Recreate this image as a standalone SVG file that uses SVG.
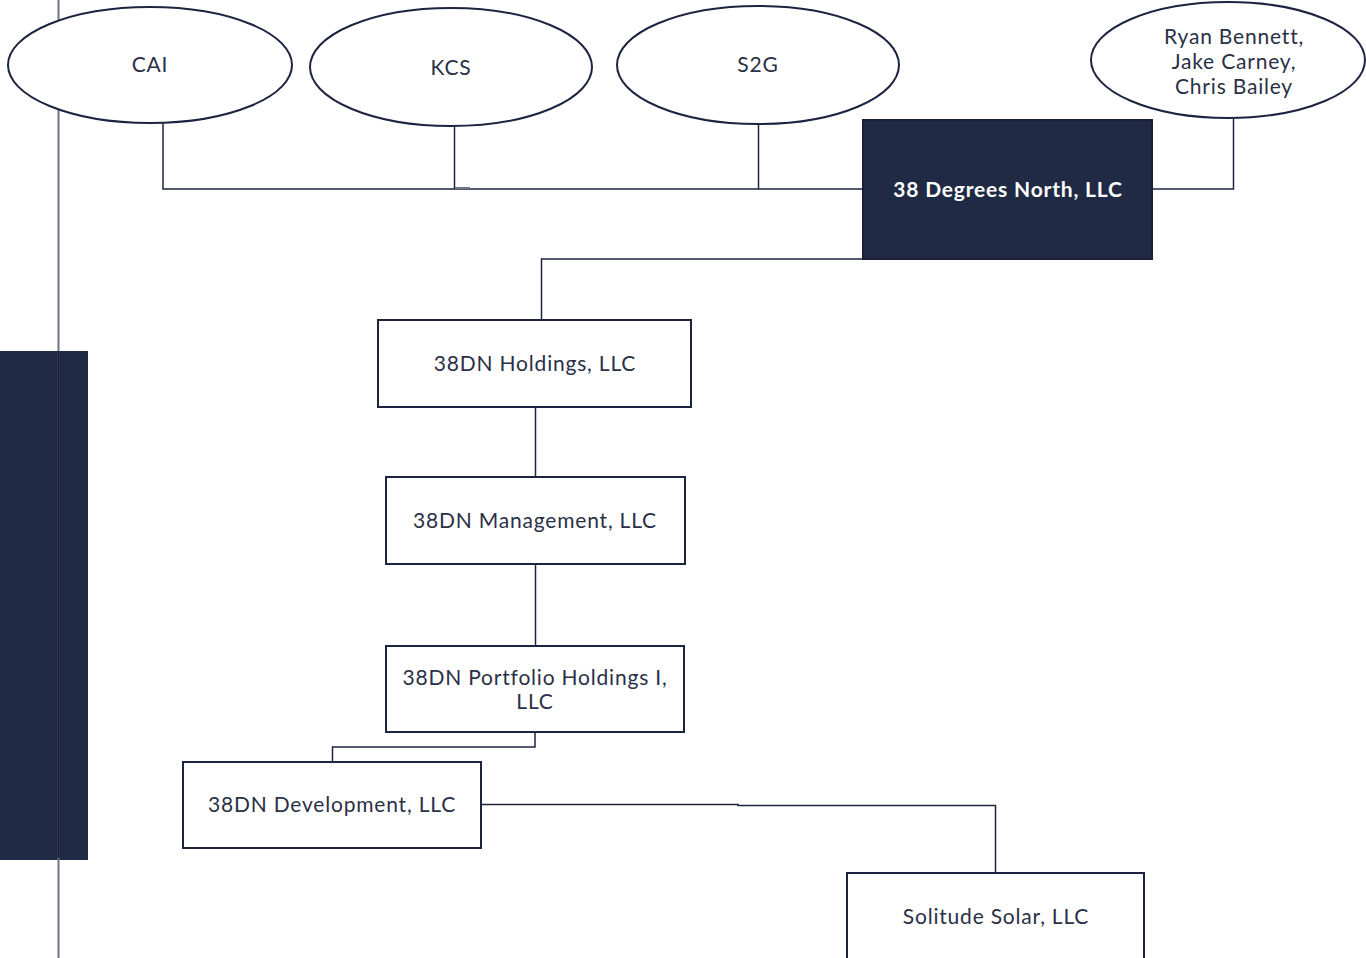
<svg xmlns="http://www.w3.org/2000/svg" width="1366" height="958" viewBox="0 0 1366 958">
<style>
.bg{fill:#ffffff}
.node{fill:#ffffff;stroke:#1c2440;stroke-width:2}
.dark{fill:#212a45;stroke:#1a2137;stroke-width:2}
.t{font-family:"Lato","Open Sans","Liberation Sans",sans-serif;font-size:21px;letter-spacing:0.8px;fill:#2a3046;text-anchor:middle}
.tb{font-family:"Lato","Open Sans","Liberation Sans",sans-serif;font-size:21px;letter-spacing:0.8px;font-weight:bold;fill:#ffffff;text-anchor:middle}
.c{fill:none;stroke:#1c2440;stroke-width:1.5}
</style>
<rect class="bg" x="0" y="0" width="1366" height="958"/>
<g id="decor">
<rect x="0" y="351" width="88" height="509" fill="#212a45"/>
<line x1="58.5" y1="0" x2="58.5" y2="958" stroke="#6f7588" stroke-width="2"/>
<line x1="58.5" y1="351" x2="58.5" y2="858" stroke="#141b33" stroke-width="2"/>
</g>
<g id="connectors">
<polyline class="c" points="163,121 163,189 863,189"/>
<line x1="150" y1="121" x2="163" y2="121" stroke="#6f7588" stroke-width="2"/>
<line class="c" x1="454.5" y1="126" x2="454.5" y2="189"/>
<line x1="455" y1="188" x2="470" y2="188" stroke="#6f7588" stroke-width="2"/>
<line class="c" x1="758.5" y1="123" x2="758.5" y2="189"/>
<polyline class="c" points="1152,189 1233.5,189 1233.5,119"/>
<polyline class="c" points="863,259 541.5,259 541.5,320"/>
<line class="c" x1="535.5" y1="407" x2="535.5" y2="477"/>
<line class="c" x1="535.5" y1="564" x2="535.5" y2="646"/>
<polyline class="c" points="535,732 535,747 332.5,747 332.5,762"/>
<polyline class="c" points="482,804.5 738,804.5 738,805.5 995.5,805.5 995.5,877"/>
</g>
<g id="cai">
<ellipse class="node" cx="150" cy="65" rx="142" ry="58"/>
<text class="t" x="150" y="72">CAI</text>
</g>
<g id="kcs">
<ellipse class="node" cx="451" cy="67" rx="141" ry="59"/>
<text class="t" x="451" y="75">KCS</text>
</g>
<g id="s2g">
<ellipse class="node" cx="758" cy="65" rx="141" ry="59"/>
<text class="t" x="758" y="72">S2G</text>
</g>
<g id="owners">
<ellipse class="node" cx="1228" cy="60" rx="137" ry="58"/>
<text class="t" x="1234" y="44">Ryan Bennett,</text>
<text class="t" x="1234" y="69">Jake Carney,</text>
<text class="t" x="1234" y="94">Chris Bailey</text>
</g>
<g id="n38north">
<rect class="dark" x="863" y="120" width="289" height="139"/>
<text class="tb" x="1008" y="197">38 Degrees North, LLC</text>
</g>
<g id="holdings">
<rect class="node" x="378" y="320" width="313" height="87"/>
<text class="t" x="535" y="371">38DN Holdings, LLC</text>
</g>
<g id="management">
<rect class="node" x="386" y="477" width="299" height="87"/>
<text class="t" x="535" y="528">38DN Management, LLC</text>
</g>
<g id="portfolio">
<rect class="node" x="386" y="646" width="298" height="86"/>
<text class="t" x="535" y="685">38DN Portfolio Holdings I,</text>
<text class="t" x="535" y="709">LLC</text>
</g>
<g id="development">
<rect class="node" x="183" y="762" width="298" height="86"/>
<text class="t" x="332" y="812">38DN Development, LLC</text>
</g>
<g id="solitude">
<rect class="node" x="847" y="873" width="297" height="100"/>
<text class="t" x="996" y="924">Solitude Solar, LLC</text>
</g>
</svg>
